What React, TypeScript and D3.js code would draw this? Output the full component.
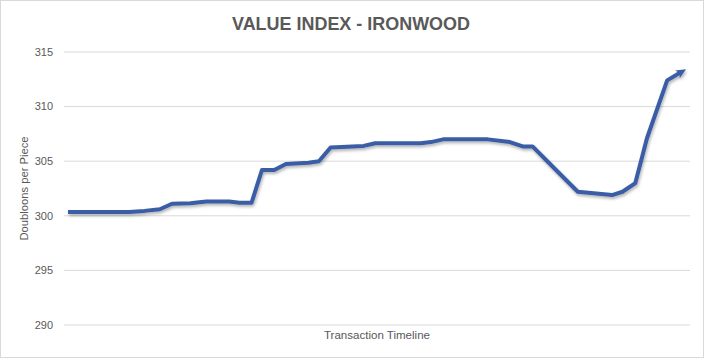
import React from "react";
import * as d3 from "d3";

const timeline = [0, 10, 12.5, 15, 17, 20, 22.6, 26.3, 28, 30, 31.7, 33.7, 35.6, 39.3, 41, 42.9, 44.7, 48.3, 50.2, 57.6, 59.3, 61.3, 68.6, 72.2, 74.3, 75.9, 78.4, 80.8, 83.3, 88.9, 90.6, 92.7, 94.6, 97.9, 100];
const values = [300.35, 300.35, 300.45, 300.6, 301.1, 301.15, 301.3, 301.3, 301.2, 301.2, 304.2, 304.2, 304.75, 304.85, 305.0, 306.25, 306.3, 306.4, 306.65, 306.65, 306.75, 307.0, 307.0, 306.75, 306.35, 306.35, 304.95, 303.6, 302.2, 301.9, 302.2, 303.0, 307.1, 312.4, 313.1];
const yTicks = [290, 295, 300, 305, 310, 315];
const title = "VALUE INDEX - IRONWOOD";
const yTitle = "Doubloons per Piece";
const xTitle = "Transaction Timeline";

const W = 705;
const H = 359;

export default function App() {
  const x = d3.scaleLinear().domain([0, 100]).range([68, 680]);
  const y = d3.scaleLinear().domain([290, 315]).range([325, 52]);
  const data = timeline.map((t, i) => [t, values[i]] as [number, number]);
  const line = d3
    .line<[number, number]>()
    .x((d) => x(d[0]))
    .y((d) => y(d[1]));
  const font = "'Liberation Sans', Arial, sans-serif";
  return (
    <div style={{ position: "fixed", left: 0, top: 0 }}>
      <svg width={W} height={H} style={{ display: "block" }}>
        <defs>
          <filter id="sh" x="-10%" y="-10%" width="120%" height="130%">
            <feDropShadow dx="1" dy="2" stdDeviation="1.4" floodColor="#000" floodOpacity="0.3" />
          </filter>
          <marker
            id="arr"
            viewBox="-1 -6 14 12"
            markerWidth="14"
            markerHeight="12"
            refX="3"
            refY="0"
            orient="auto"
            markerUnits="userSpaceOnUse"
          >
            <path d="M0,-4.5 L10,0 L0,4.5 L2.5,0 Z" fill="#3A5DA6" />
          </marker>
        </defs>
        <rect x={0.5} y={0.5} width={W - 2} height={H - 2} fill="#fff" stroke="#d9d9d9" />
        <text
          x={351}
          y={30}
          textAnchor="middle"
          fontFamily={font}
          fontWeight="bold"
          fontSize={18}
          fill="#595959"
          textLength={238}
          lengthAdjust="spacingAndGlyphs"
        >
          {title}
        </text>
        {yTicks.map((t) => (
          <g key={t}>
            <line x1={64} x2={690} y1={y(t)} y2={y(t)} stroke="#d9d9d9" strokeWidth={1} />
            <text
              x={53}
              y={y(t)}
              dy="0.35em"
              textAnchor="end"
              fontFamily={font}
              fontSize={11}
              fill="#595959"
            >
              {t}
            </text>
          </g>
        ))}
        <text
          transform={`translate(28, ${y(302.5)}) rotate(-90)`}
          textAnchor="middle"
          fontFamily={font}
          fontSize={11}
          fill="#595959"
          textLength={104}
          lengthAdjust="spacingAndGlyphs"
        >
          {yTitle}
        </text>
        <text
          x={377}
          y={339}
          textAnchor="middle"
          fontFamily={font}
          fontSize={11}
          fill="#595959"
          textLength={106}
          lengthAdjust="spacingAndGlyphs"
        >
          {xTitle}
        </text>
        <g filter="url(#sh)">
          <path
            d={line(data) || ""}
            fill="none"
            stroke="#3A5DA6"
            strokeWidth={4}
            strokeLinejoin="round"
            markerEnd="url(#arr)"
          />
        </g>
      </svg>
    </div>
  );
}
